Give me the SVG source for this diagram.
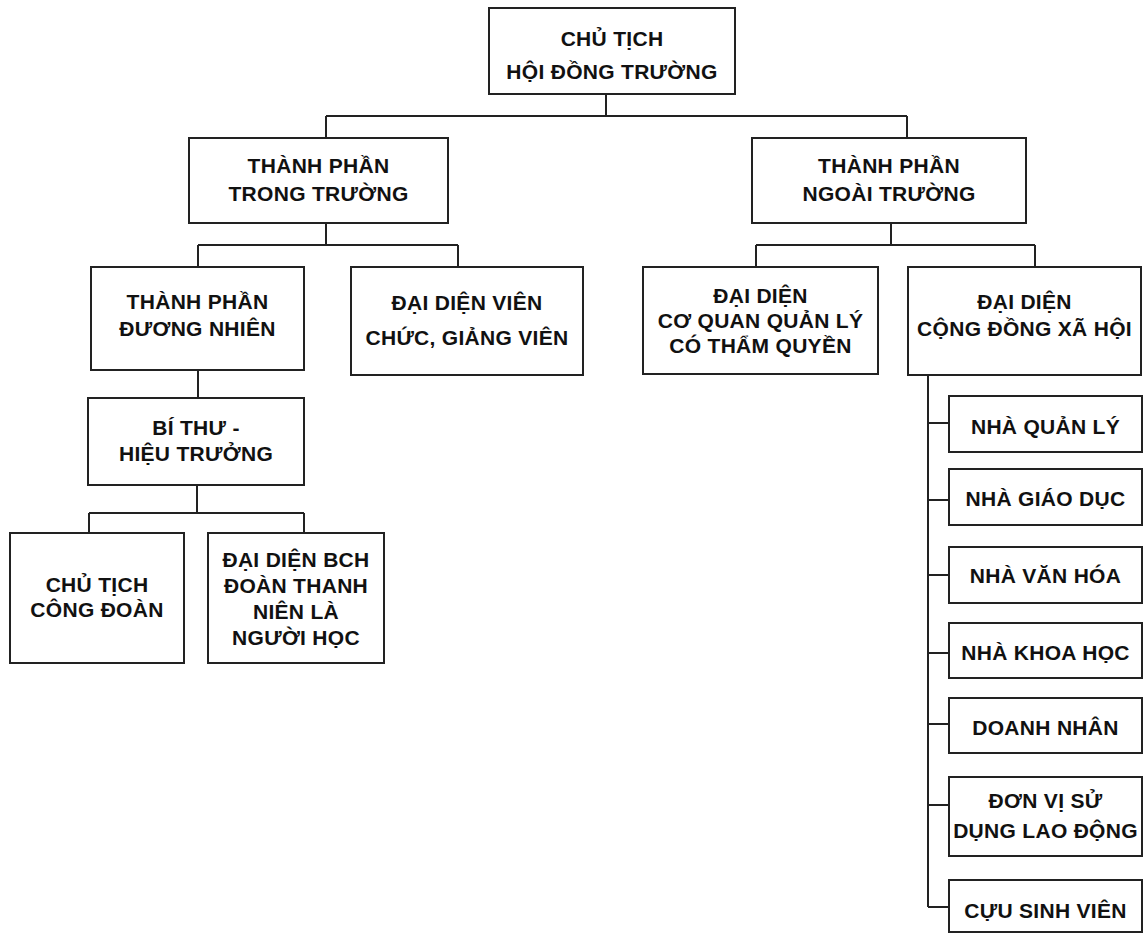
<svg xmlns="http://www.w3.org/2000/svg" width="1144" height="933" viewBox="0 0 1144 933">
<style>
.box{fill:#fff;stroke:#222;stroke-width:2}
.ln{fill:none;stroke:#222;stroke-width:2}
text{font-family:"Liberation Sans",Arial,sans-serif;font-weight:bold;font-size:21px;letter-spacing:0.3px;fill:#111;text-anchor:middle}
</style>
<rect width="1144" height="933" fill="#fff"/>
<g id="connectors" class="ln">
<path d="M606 94V116M326 116H907M326 116V138M907 116V138"/>
<path d="M326 223V245M198 245H458M198 245V267M458 245V267"/>
<path d="M891 223V245M756 245H1035M756 245V267M1035 245V267"/>
<path d="M198 370V398"/>
<path d="M197 485V513M89 513H304M89 513V533M304 513V533"/>
<path d="M928 375V907M928 423H949M928 500H949M928 575H949M928 653H949M928 724H949M928 805H949M928 907H949"/>
</g>
<g id="n-chutich-hdt"><rect class="box" x="489" y="8" width="246" height="86"/><text x="612" y="46">CHỦ TỊCH</text><text x="612" y="79">HỘI ĐỒNG TRƯỜNG</text></g>
<g id="n-trong"><rect class="box" x="189" y="138" width="259" height="85"/><text x="318.5" y="173">THÀNH PHẦN</text><text x="318.5" y="201">TRONG TRƯỜNG</text></g>
<g id="n-ngoai"><rect class="box" x="752" y="138" width="274" height="85"/><text x="889" y="173">THÀNH PHẦN</text><text x="889" y="201">NGOÀI TRƯỜNG</text></g>
<g id="n-duongnhien"><rect class="box" x="91" y="267" width="213" height="103"/><text x="197.5" y="309">THÀNH PHẦN</text><text x="197.5" y="336">ĐƯƠNG NHIÊN</text></g>
<g id="n-vienchuc"><rect class="box" x="351" y="267" width="232" height="108"/><text x="467" y="310">ĐẠI DIỆN VIÊN</text><text x="467" y="345">CHỨC, GIẢNG VIÊN</text></g>
<g id="n-coquan"><rect class="box" x="643" y="267" width="235" height="107"/><text x="760.5" y="303">ĐẠI DIỆN</text><text x="760.5" y="328">CƠ QUAN QUẢN LÝ</text><text x="760.5" y="353">CÓ THẨM QUYỀN</text></g>
<g id="n-congdong"><rect class="box" x="908" y="267" width="233" height="108"/><text x="1024.5" y="309">ĐẠI DIỆN</text><text x="1024.5" y="336">CỘNG ĐỒNG XÃ HỘI</text></g>
<g id="n-bithu"><rect class="box" x="88" y="398" width="216" height="87"/><text x="196" y="435">BÍ THƯ -</text><text x="196" y="461">HIỆU TRƯỞNG</text></g>
<g id="n-congdoan"><rect class="box" x="10" y="533" width="174" height="130"/><text x="97" y="592">CHỦ TỊCH</text><text x="97" y="617">CÔNG ĐOÀN</text></g>
<g id="n-doanthanhnien"><rect class="box" x="208" y="533" width="176" height="130"/><text x="296" y="567">ĐẠI DIỆN BCH</text><text x="296" y="593">ĐOÀN THANH</text><text x="296" y="619">NIÊN LÀ</text><text x="296" y="645">NGƯỜI HỌC</text></g>
<g id="n-quanly"><rect class="box" x="949" y="396" width="193" height="56"/><text x="1045.5" y="434">NHÀ QUẢN LÝ</text></g>
<g id="n-giaoduc"><rect class="box" x="949" y="469" width="193" height="56"/><text x="1045.5" y="506">NHÀ GIÁO DỤC</text></g>
<g id="n-vanhoa"><rect class="box" x="949" y="547" width="193" height="56"/><text x="1045.5" y="583">NHÀ VĂN HÓA</text></g>
<g id="n-khoahoc"><rect class="box" x="949" y="623" width="193" height="55"/><text x="1045.5" y="660">NHÀ KHOA HỌC</text></g>
<g id="n-doanhnhan"><rect class="box" x="949" y="698" width="193" height="55"/><text x="1045.5" y="735">DOANH NHÂN</text></g>
<g id="n-donvi"><rect class="box" x="949" y="777" width="193" height="79"/><text x="1045.5" y="808">ĐƠN VỊ SỬ</text><text x="1045.5" y="838">DỤNG LAO ĐỘNG</text></g>
<g id="n-cuusinhvien"><rect class="box" x="949" y="880" width="193" height="52"/><text x="1045.5" y="918">CỰU SINH VIÊN</text></g>
</svg>
